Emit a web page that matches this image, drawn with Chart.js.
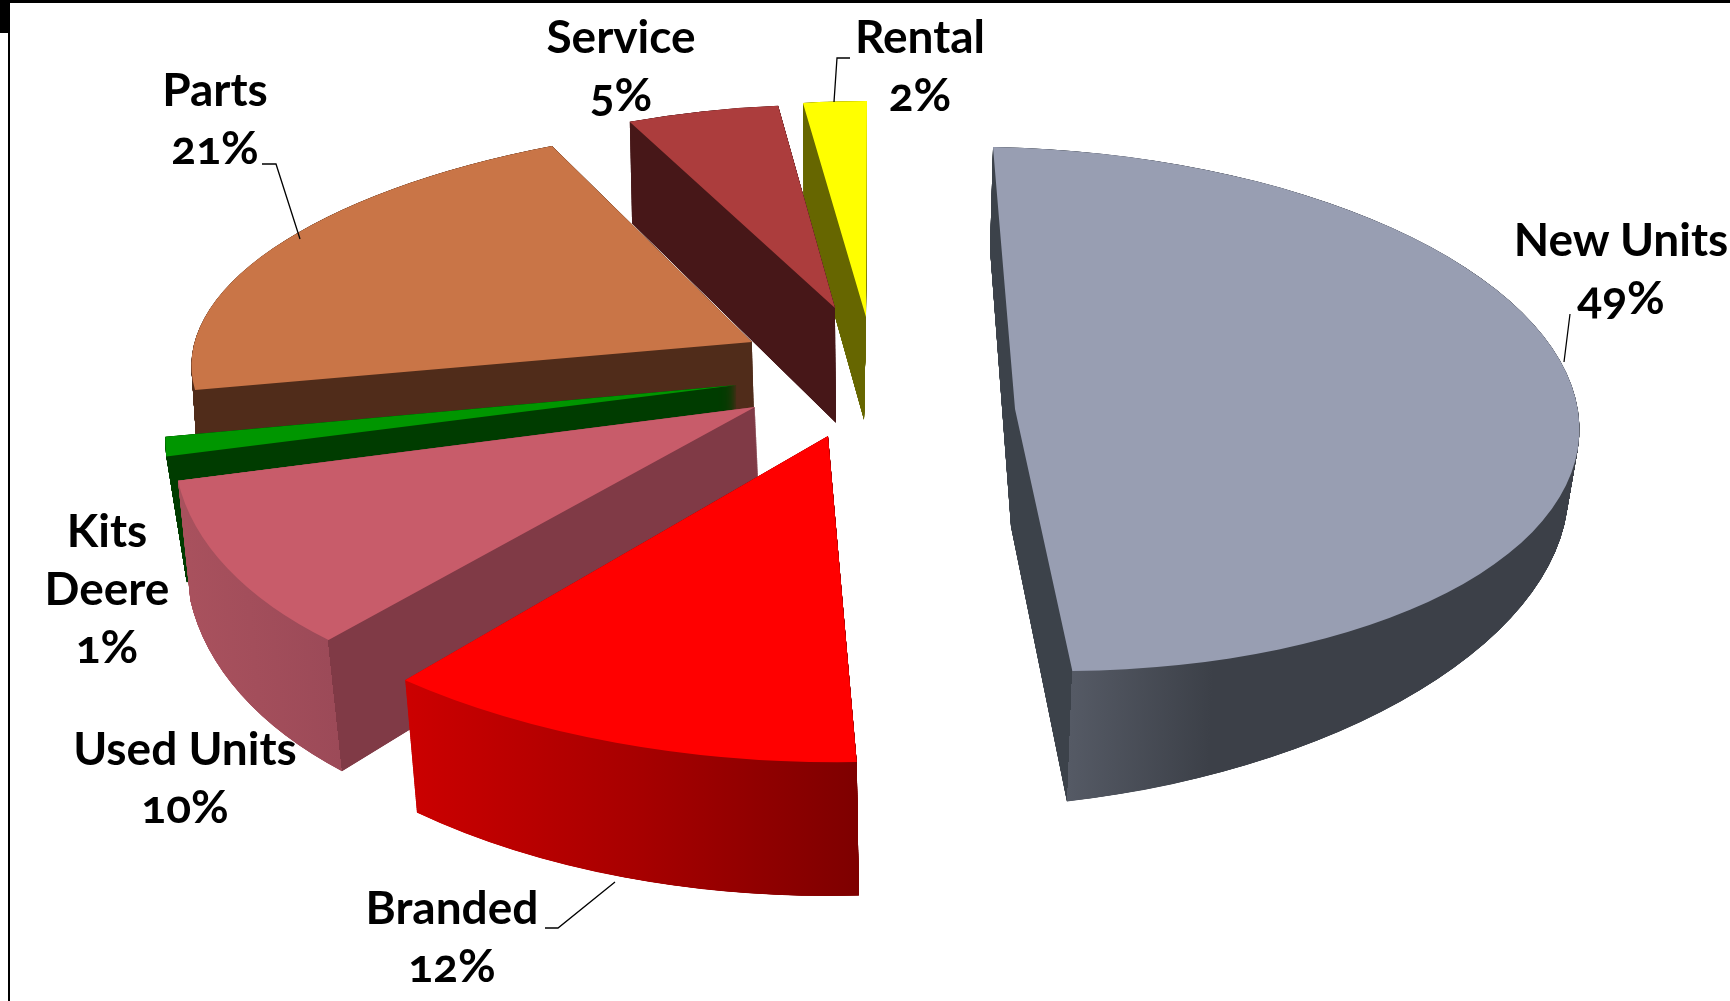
<!DOCTYPE html>
<html><head><meta charset="utf-8">
<style>
html,body{margin:0;padding:0;background:#fff;overflow:hidden}
#wrap{position:relative;width:1730px;height:1001px;overflow:hidden}
canvas{position:absolute;left:0;top:0}
.bar{position:absolute;background:#000}
.lab{position:absolute;transform:translateX(-50%);text-align:center;white-space:nowrap;color:#000;
  font:700 46px/58px Lato;font-feature-settings:"onum" 1;font-variant-numeric:oldstyle-nums}
</style>
<script src="https://cdn.jsdelivr.net/npm/chart.js@4"></script>
</head><body>
<div id="wrap">
<canvas id="c" width="1730" height="1001"></canvas>
<div class="bar" style="left:0;top:0;width:1730px;height:3px"></div>
<div class="bar" style="left:8px;top:0;width:2px;height:1001px"></div>
<div class="bar" style="left:0;top:0;width:9px;height:33px"></div>
</div>
<script>
// ---- data ----
const categories = ['New Units','Branded','Used Units','Kits Deere','Parts','Service','Rental'];
const shares     = [49,12,10,1,21,5,2];
const topColors  = ['#989eb2','#ff0000','#c85c6a','#009600','#c97547','#ac3d3d','#ffff00'];

// ---- styling: label placement, one entry per category ----
const labelLines = [['New Units'],['Branded'],['Used Units'],['Kits','Deere'],['Parts'],['Service'],['Rental']];
const labelX     = [1621,452,185,107,215,621,920];
const labelY     = [257,925,766,548,107,54,54];
const baselineInBox = 47;
const leaders = [
  [[1570,314],[1564,362]],
  [[545,928],[558,928],[615,882]],
  [],[],
  [[262,164],[276,164],[300,239]],
  [],
  [[850,58],[837,58],[834,102]]
];
// ---- styling: pseudo-3D pose of each slice (affine frames of top and bottom plates) ----
// [ax, ay, cx, cy, px, py]
const topPose = [
  [564,10,22,262,1015,409],
  [649,11,-12,326,828,436],
  [576,2,-77,304,755,407],
  [561,9,-110,323,737,385],
  [559,-7,-42,220,752,342],
  [493,6,-5,203,835,308],
  [511,-2,-1,216,866,317]
];
const bottomPose = [
  [557,-47,21,278,1011,527],
  [635,5,-11,350,830,546],
  [570,-3,-71,330,760,515],
  [545,5,-90,330,737,505],
  [555,-7,-42,225,755,445],
  [490,6,-5,218,836,423],
  [490,0,-1,217,864,420]
];
// wall shading: [x0,y0,x1,y1,[stop,color]...]
const wallShade = [
  [985,671,1584,694,[0,'#3c424a'],[0.145,'#3c424a'],[0.145,'#555a65'],[0.38,'#3c4048'],[1,'#3c4048']],
  [405,750,858,750,[0,'#cc0000'],[0.5,'#a80000'],[1,'#7e0000']],
  [177,640,773,576,[0,'#aa525e'],[0.25,'#9c4a58'],[0.25,'#803a46'],[1,'#803a46']],
  [0,0,1730,0,[0,'#003c00'],[1,'#003c00']],
  [0,0,1730,0,[0,'#502c1a'],[1,'#502c1a']],
  [0,0,1730,0,[0,'#471718'],[1,'#471718']],
  [0,0,1730,0,[0,'#666600'],[1,'#666600']]
];
const drawOrder = [6,5,4,3,2,1,0];
const wallSteps = 600;

function applyPose(ctx, el, p){
  const R = el.outerRadius, x = el.x, y = el.y;
  ctx.transform(p[0]/R, p[1]/R, p[2]/R, p[3]/R,
    p[4]-(p[0]*x+p[2]*y)/R, p[5]-(p[1]*x+p[3]*y)/R);
}
const pie3d = {
  id:'pie3d',
  beforeDatasetsDraw(chart){
    const ctx = chart.ctx, W = chart.width, H = chart.height;
    const arcs = chart.getDatasetMeta(0).data;
    for(const i of drawOrder){
      const el = arcs[i];
      const off = document.createElement('canvas');
      off.width = W; off.height = H;
      const o = off.getContext('2d');
      for(let s=0;s<=wallSteps;s++){
        const t = 1-s/wallSteps;
        const p = topPose[i].map((v,k)=>v+(bottomPose[i][k]-v)*t);
        o.save(); applyPose(o,el,p); el.draw(o); o.restore();
      }
      const sh = wallShade[i];
      const g = o.createLinearGradient(sh[0],sh[1],sh[2],sh[3]);
      sh.slice(4).forEach(st=>g.addColorStop(st[0],st[1]));
      o.globalCompositeOperation='source-in';
      o.fillStyle=g; o.fillRect(0,0,W,H);
      ctx.drawImage(off,0,0);
      ctx.save(); applyPose(ctx,el,topPose[i]); el.draw(ctx); ctx.restore();
    }
    return false;
  },
  afterDraw(chart){
    const ctx = chart.ctx;
    ctx.save();
    ctx.strokeStyle='#000'; ctx.lineWidth=1.3;
    leaders.forEach(pts=>{
      if(!pts.length) return;
      ctx.beginPath();
      pts.forEach((q,k)=> k?ctx.lineTo(q[0],q[1]):ctx.moveTo(q[0],q[1]));
      ctx.stroke();
    });
    ctx.restore();
  }
};
new Chart(document.getElementById('c'),{
  type:'pie',
  data:{labels:categories,datasets:[{data:shares,backgroundColor:topColors,borderWidth:0}]},
  options:{responsive:false,animation:false,events:[],
    layout:{padding:100},
    plugins:{legend:{display:false},tooltip:{enabled:false},title:{display:false}}},
  plugins:[pie3d]
});
// data labels: old-style figures need CSS font features, so they are HTML text
const wrap = document.getElementById('wrap');
categories.forEach((c,i)=>{
  const d = document.createElement('div');
  d.className='lab';
  d.style.left = labelX[i]+'px';
  d.style.top = (labelY[i]-baselineInBox)+'px';
  d.innerHTML = labelLines[i].concat([shares[i]+'%']).join('<br>');
  wrap.appendChild(d);
});
</script>
</body></html>
